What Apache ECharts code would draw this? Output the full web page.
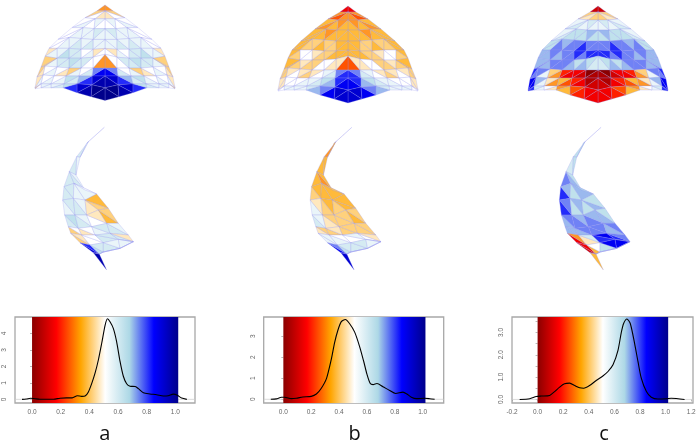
<!DOCTYPE html>
<html>
<head>
<meta charset="utf-8">
<style>html,body{margin:0;padding:0;background:#fff}#c{width:699px;height:443px;filter:blur(0.45px)}</style>
<script src="https://cdn.jsdelivr.net/npm/echarts@6/dist/echarts.min.js"></script>
</head>
<body>
<div id="c"></div>
<script>
// ---------- colour ramp
const ramp = ['#8b0000','#ff0000','#ffa500','#ffffff','#add8e6','#0000ff','#00008b'];
const panelLabels = ['a','b','c'];

// ---------- density curves [x, density]
const densityA = [[-0.07,0],[-0.04,0.02],[-0.01,0.07],[0.02,0.04],[0.055,0.01],[0.15,0.01],[0.195,0.07],[0.24,0.09],[0.28,0.09],[0.316,0.22],[0.347,0.18],[0.37,0.2],[0.393,0.45],[0.416,0.95],[0.44,1.6],[0.463,2.4],[0.486,3.4],[0.51,4.5],[0.526,4.88],[0.544,4.7],[0.567,4.3],[0.59,3.5],[0.614,2.3],[0.637,1.4],[0.66,0.95],[0.684,0.8],[0.72,0.78],[0.742,0.65],[0.777,0.4],[0.823,0.33],[0.87,0.28],[0.916,0.2],[0.95,0.22],[0.986,0.32],[1.014,0.25],[1.044,0.08],[1.08,0]];
const densityB = [[-0.09,0],[-0.05,0.02],[-0.014,0.1],[0.01,0.1],[0.057,0.03],[0.093,0.05],[0.14,0.11],[0.2,0.14],[0.237,0.25],[0.27,0.5],[0.31,1.0],[0.344,1.9],[0.368,2.7],[0.392,3.3],[0.416,3.7],[0.445,3.8],[0.476,3.6],[0.512,3.2],[0.548,2.5],[0.577,1.8],[0.6,1.2],[0.624,0.75],[0.644,0.7],[0.672,0.75],[0.715,0.6],[0.763,0.42],[0.806,0.28],[0.859,0.34],[0.887,0.25],[0.919,0.1],[0.955,0.03],[1.014,0.05],[1.05,0.03],[1.086,0]];
const densityC = [[-0.14,0],[-0.062,0.03],[-0.01,0.13],[0.03,0.15],[0.094,0.18],[0.133,0.35],[0.172,0.55],[0.21,0.7],[0.25,0.73],[0.29,0.62],[0.328,0.52],[0.36,0.5],[0.406,0.62],[0.458,0.85],[0.51,1.05],[0.55,1.25],[0.589,1.55],[0.628,2.2],[0.654,3.0],[0.672,3.4],[0.698,3.6],[0.724,3.4],[0.758,2.5],[0.784,1.7],[0.81,0.95],[0.85,0.35],[0.888,0.1],[0.94,0.02],[1.005,0.03],[1.044,0.05],[1.148,0]];

// ---------- axis ranges and tick values
const xRangeA = [-0.119,1.137], yRangeA = [-0.22,4.99];
const xRangeB = [-0.141,1.151], yRangeB = [-0.176,3.92];
const xRangeC = [-0.2,1.214], yRangeC = [-0.16,3.69];
const xTicksAB = [0,0.2,0.4,0.6,0.8,1.0];
const xTicksC = [-0.2,0,0.2,0.4,0.6,0.8,1.0,1.2];
const yTicksA = [0,1,2,3,4];
const yTicksB = [0,1,2,3];
const yTicksC = [0,0.5,1,1.5,2,2.5,3,3.5];
const yLabelsC = [0,1,2,3];
const colourBarEnd = 1.02;

// ---------- front-view mesh: half rows from centre to edge, in mesh units
const frontRows = [
  [[0,0]],
  [[0,6],[8,6]],
  [[0,14],[10,14],[20,13]],
  [[0,24],[11,24],[22,23],[33,23]],
  [[0,35],[12,35],[24,34],[36,33],[47,35]],
  [[0,44],[12,45],[24,45],[36,44],[48,44],[56,44]],
  [[0,50],[12,53],[24,54],[36,54],[48,54],[60,52]],
  [[0,64],[12,64],[24,64],[36,64],[48,63],[60,62],[64,63]],
  [[0,72],[13,72],[26,72],[39,72],[51,72],[62,71],[68,73]],
  [[0,84],[13,81],[28,80],[41,80],[54,80],[64,80],[70,84]],
  [[0,97],[14,93],[28,89],[42,84],[54,84],[64,84],[70,85]]
];
// colour level 0..20 of each triangle, band by band, centre to edge
const frontA = [
  [6],[9,10,8],[10,11,10,11,10],[11,12,11,11,11,10,10],
  [11,11,12,11,12,11,11,10,10],[10,9,11,10,12,12,13,11,11,9],
  [6,10,10,12,12,13,12,12,11,8,8],[17,15,12,10,11,8,9,10,11,10,9,8],
  [19,18,16,14,12,13,11,10,11,10,11,9],[20,20,19,18,16,13,12,11,11,11,10,8]
];
const frontB = [
  [3],[6,5,6],[7,6,7,6,7],[7,7,7,6,7,7,7],
  [7,7,8,8,7,8,8,7,7],[7,7,7,8,8,9,10,10,8,7],
  [5,9,9,10,10,8,8,9,8,7,7],[16,15,12,11,10,9,8,9,10,9,8,8],
  [17,16,14,13,12,11,11,10,10,10,9,9],[18,18,17,15,14,12,11,11,11,11,10,10]
];
const frontC = [
  [2],[8,9,8],[11,12,11,12,11],[13,14,13,13,13,12,11],
  [15,15,16,15,15,14,15,13,13],[16,16,15,16,15,15,14,15,14,14],
  [12,13,14,13,14,15,15,15,14,15,14],[1,0,2,3,3,4,6,8,11,15,15,16],
  [2,1,3,4,5,7,6,9,11,14,17,17],[3,3,4,5,7,6,9,10,11,12,16,17]
];

// ---------- side-view mesh: rows from outer to inner edge, in mesh units
const sideRows = [
  [[133,22]],
  [[85,65],[80,70]],
  [[50,110],[60,112]],
  [[28,155],[48,165]],
  [[12,200],[42,190],[75,210]],
  [[8,240],[40,235],[75,240],[110,222]],
  [[14,285],[45,285],[80,285],[115,270],[145,265]],
  [[25,320],[55,325],[95,320],[140,310],[175,310]],
  [[32,340],[65,345],[105,345],[150,340],[205,345]],
  [[60,368],[90,375],[130,368],[175,358],[220,365]],
  [[100,398],[118,402],[130,396],[180,385],[220,365]],
  [[140,450],[118,402],[130,396],[180,385],[220,365]]
];
const sideA = [[11],[12,11],[12,11],[12,12,11],[12,12,11,11,10],[11,12,12,11,9,8,7],[12,13,12,11,10,9,7,8],[8,10,9,10,11,12,12,11],[8,9,10,10,12,12,12,9],[18,16,13,12,12,11,11,8],[19,19,19,19,19,19,19,19]];
const sideB = [[4],[6,7],[7,7],[7,6,7],[8,7,7,7,8],[11,9,8,7,8,7,7],[12,11,9,8,8,8,7,8],[9,8,8,9,8,8,8,8],[11,11,11,10,10,11,10,9],[17,15,13,12,12,12,11,9],[18,18,18,18,18,18,18,18]];
const sideC = [[12],[13,13],[12,13],[15,14,13],[16,14,13,14,13],[16,15,13,14,13,14,13],[14,15,15,14,15,14,14,13],[14,14,14,15,15,15,14,15],[3,6,9,12,16,17,16,15],[2,3,7,10,13,17,17,3],[7,7,7,7,7,7,7,7]];

// ---------- build triangles from rows and colour levels
function zipper(top, bottom, levels) {
  const out = []; let i = 0, j = 0, t = 0;
  const p = top.length - 1, q = bottom.length - 1;
  while (i < p || j < q) {
    let tri;
    if (j >= q || (i < p && (i + 1) / p < (j + 1) / q)) {
      tri = [top[i], top[i + 1], bottom[j]]; i++;
    } else {
      tri = [top[i], bottom[j], bottom[j + 1]]; j++;
    }
    out.push({tri, level: levels[t++]});
  }
  return out;
}
function toData(list) {
  return list.map(o => [o.tri[0][0],o.tri[0][1],o.tri[1][0],o.tri[1][1],o.tri[2][0],o.tri[2][1],o.level]);
}
function frontTriangles(levels) {
  const res = [];
  for (let k = 0; k < frontRows.length - 1; k++) {
    zipper(frontRows[k], frontRows[k + 1], levels[k]).forEach(o => {
      res.push(o);
      res.push({tri: o.tri.map(v => [-v[0], v[1]]), level: o.level});
    });
  }
  return toData(res);
}
function sideTriangles(levels) {
  const res = [];
  for (let k = 0; k < sideRows.length - 1; k++) res.push(...zipper(sideRows[k], sideRows[k + 1], levels[k]));
  return toData(res);
}
function renderTriangle(params, api) {
  const pts = [0, 2, 4].map(n => api.coord([api.value(n), api.value(n + 1)]));
  const level = api.value(6);
  const base = echarts.color.lerp(level / 20, ramp);
  return {
    type: 'polygon',
    shape: {points: pts},
    style: {
      fill: (level <= 5 || level >= 16) ? base : echarts.color.modifyAlpha(base, 0.85),
      stroke: 'rgba(150,150,240,0.5)',
      lineWidth: 0.5
    }
  };
}
function renderBar(params, api) {
  const a = api.coord([api.value(0), api.value(3)]);
  const b = api.coord([api.value(1), api.value(2)]);
  return {
    type: 'rect',
    shape: {x: a[0], y: a[1], width: b[0] - a[0], height: b[1] - a[1]},
    style: {
      fill: new echarts.graphic.LinearGradient(0, 0, 1, 0,
        ramp.map((c, i) => ({offset: i / (ramp.length - 1), color: c})))
    }
  };
}

// ---------- layout
const grid = [], xAxis = [], yAxis = [], series = [];
function meshPanel(left, top, w, h, xr, yr, data) {
  const g = grid.length;
  grid.push({left, top, width: w, height: h});
  xAxis.push({type: 'value', gridIndex: g, min: xr[0], max: xr[1], show: false});
  yAxis.push({type: 'value', gridIndex: g, min: yr[0], max: yr[1], inverse: true, show: false});
  series.push({type: 'custom', xAxisIndex: g, yAxisIndex: g, renderItem: renderTriangle, data, clip: false, silent: true,
    encode: {x: [0, 2, 4], y: [1, 3, 5]}});
}
const frontX = [-75, 75], frontY = [-5, 105], sideX = [0, 240], sideY = [0, 480];
meshPanel(30, -1.5, 150, 110, frontX, frontY, frontTriangles(frontA));
meshPanel(273, 1, 150, 110, frontX, frontY, frontTriangles(frontB));
meshPanel(523, 1, 150, 110, frontX, frontY, frontTriangles(frontC));
meshPanel(60, 120, 80, 160, sideX, sideY, sideTriangles(sideA));
meshPanel(307.5, 120, 80, 160, sideX, sideY, sideTriangles(sideB));
meshPanel(556.7, 120, 80, 160, sideX, sideY, sideTriangles(sideC));

const txt = {color: '#666', fontFamily: 'Liberation Sans', fontSize: 6.5};
function densityPanel(left, width, xr, yr, xticks, yticks, ylabels, yfmt, data) {
  const g = grid.length;
  grid.push({left, top: 317, width, height: 86, show: true, borderColor: '#a8a8a8', borderWidth: 1.3, backgroundColor: '#fff'});
  xAxis.push({type: 'value', gridIndex: g, min: xr[0], max: xr[1], splitLine: {show: false}, axisLine: {show: false},
    axisTick: {show: true, length: 2, lineStyle: {color: '#999', width: 0.7}, customValues: xticks},
    axisLabel: {...txt, margin: 6, customValues: xticks, formatter: v => v.toFixed(1), showMinLabel: true, showMaxLabel: true}});
  yAxis.push({type: 'value', gridIndex: g, min: yr[0], max: yr[1], splitLine: {show: false}, axisLine: {show: false},
    axisTick: {show: true, length: 2, lineStyle: {color: '#999', width: 0.7}, customValues: yticks},
    axisLabel: {...txt, margin: 7, rotate: 90, customValues: ylabels, formatter: yfmt}});
  series.push({type: 'line', xAxisIndex: g, yAxisIndex: g, data: [[xr[0], 0], [xr[1], 0]], showSymbol: false, silent: true,
    lineStyle: {color: '#ccc', width: 0.7}, z: 1});
  series.push({type: 'custom', xAxisIndex: g, yAxisIndex: g, renderItem: renderBar, silent: true, z: 2,
    data: [[0, colourBarEnd, yr[0], yr[1]]], encode: {x: [0, 1], y: [2, 3]}});
  series.push({type: 'line', xAxisIndex: g, yAxisIndex: g, data, showSymbol: false, smooth: 0.25, silent: true, z: 3,
    lineStyle: {color: '#000', width: 1.1}});
}
densityPanel(15, 180, xRangeA, yRangeA, xTicksAB, yTicksA, yTicksA, v => String(v), densityA);
densityPanel(263.7, 180, xRangeB, yRangeB, xTicksAB, yTicksB, yTicksB, v => String(v), densityB);
densityPanel(512, 181, xRangeC, yRangeC, xTicksC, yTicksC, yLabelsC, v => v.toFixed(1), densityC);

const title = panelLabels.map((t, i) => ({
  text: t, left: [104.7, 354.7, 604][i], top: 424, textAlign: 'center', padding: 0,
  textStyle: {color: '#111', fontFamily: 'Open Sans', fontWeight: 'normal', fontSize: 20}
}));

const chart = echarts.init(document.getElementById('c'), null, {renderer: 'canvas'});
chart.setOption({animation: false, backgroundColor: '#fff', title, grid, xAxis, yAxis, series});
</script>
</body>
</html>
